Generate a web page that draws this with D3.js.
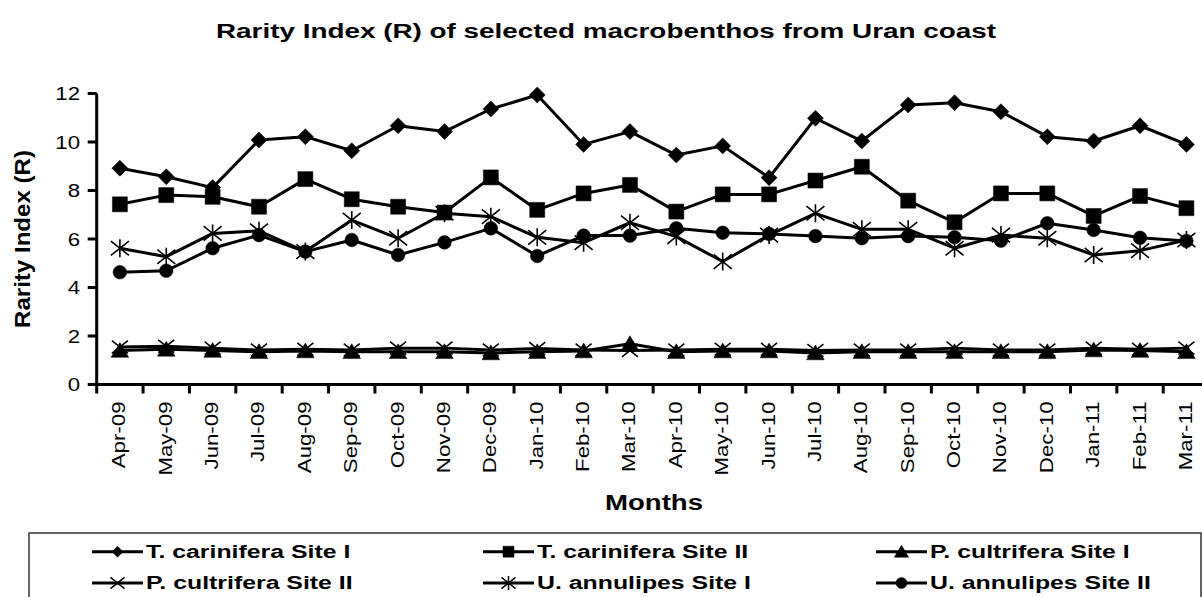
<!DOCTYPE html>
<html>
<head>
<meta charset="utf-8">
<script src="https://cdn.jsdelivr.net/npm/d3@7"></script>
<style>
  html, body { margin: 0; padding: 0; background: #fff; }
  svg { display: block; font-family: "Liberation Sans", Arial, sans-serif; }
</style>
</head>
<body>
<svg id="chart" width="1202" height="597"></svg>
<script>
const months = ["Apr-09","May-09","Jun-09","Jul-09","Aug-09","Sep-09","Oct-09","Nov-09","Dec-09","Jan-10","Feb-10","Mar-10",
                "Apr-10","May-10","Jun-10","Jul-10","Aug-10","Sep-10","Oct-10","Nov-10","Dec-10","Jan-11","Feb-11","Mar-11"];
const yTicks = [0, 2, 4, 6, 8, 10, 12];

const tcSite1 = [8.92, 8.57, 8.12, 10.08, 10.22, 9.64, 10.67, 10.43, 11.36, 11.94, 9.90, 10.43, 9.46, 9.84, 8.53, 10.98, 10.04, 11.53, 11.62, 11.25, 10.22, 10.04, 10.67, 9.90];
const tcSite2 = [7.43, 7.81, 7.74, 7.33, 8.47, 7.64, 7.33, 7.09, 8.54, 7.20, 7.88, 8.23, 7.13, 7.84, 7.84, 8.41, 8.98, 7.58, 6.69, 7.88, 7.88, 6.95, 7.77, 7.27];
const pcSite1 = [1.40, 1.45, 1.40, 1.35, 1.38, 1.35, 1.35, 1.35, 1.30, 1.35, 1.38, 1.68, 1.35, 1.38, 1.38, 1.30, 1.35, 1.35, 1.35, 1.35, 1.35, 1.42, 1.40, 1.35];
const pcSite2 = [1.55, 1.58, 1.50, 1.42, 1.45, 1.42, 1.50, 1.50, 1.42, 1.48, 1.42, 1.40, 1.42, 1.45, 1.45, 1.40, 1.42, 1.42, 1.50, 1.42, 1.42, 1.50, 1.45, 1.50];
const uaSite1 = [5.62, 5.27, 6.23, 6.34, 5.48, 6.78, 6.03, 7.06, 6.92, 6.07, 5.85, 6.67, 6.10, 5.07, 6.16, 7.06, 6.40, 6.40, 5.62, 6.16, 6.03, 5.34, 5.52, 5.96];
const uaSite2 = [4.63, 4.69, 5.62, 6.16, 5.48, 5.96, 5.34, 5.86, 6.44, 5.30, 6.14, 6.14, 6.44, 6.26, 6.21, 6.12, 6.03, 6.12, 6.07, 5.93, 6.65, 6.37, 6.05, 5.92];

const seriesNames = ["T. carinifera Site I","T. carinifera Site II","P. cultrifera Site I","P. cultrifera Site II","U. annulipes Site I","U. annulipes Site II"];
const seriesValues = [tcSite1, tcSite2, pcSite1, pcSite2, uaSite1, uaSite2];
const seriesMarkers = ["diamond","square","triangle","x","star","circle"];

const chartTitle = "Rarity Index (R) of selected macrobenthos from Uran coast";
const xTitle = "Months";
const yTitle = "Rarity Index (R)";

(function draw() {
const svg = d3.select("#chart");
const pL = 96.7, pR = 1209.6, pT = 93.5, pB = 384.5;

const x = d3.scaleBand().domain(months).range([pL, pR]).padding(0);
const y = d3.scaleLinear().domain([0, 12]).range([pB, pT]);

function stretch(sel, k) {
  sel.each(function() {
    const w = this.getComputedTextLength();
    d3.select(this).attr("textLength", w * k).attr("lengthAdjust", "spacingAndGlyphs");
  });
}

function markerPath(type, r) {
  switch (type) {
    case "diamond": return `M0,${-r}L${r},0L0,${r}L${-r},0Z`;
    case "square": return `M${-r},${-r}h${2*r}v${2*r}h${-2*r}Z`;
    case "triangle": return `M0,${-r}L${r*1.1},${r*0.85}L${-r*1.1},${r*0.85}Z`;
    case "circle": return `M${r},0A${r},${r} 0 1,1 ${-r},0A${r},${r} 0 1,1 ${r},0Z`;
    case "x": return `M${-r},${-r*0.8}L${r},${r*0.8}M${-r},${r*0.8}L${r},${-r*0.8}`;
    case "star": return `M${-r},${-r*0.8}L${r},${r*0.8}M${-r},${r*0.8}L${r},${-r*0.8}M0,${-r}L0,${r}`;
  }
}
const plotSize = {diamond: 8, square: 7.5, triangle: 8, circle: 6.8, x: 8, star: 9};
const legSize = {diamond: 5.5, square: 5.5, triangle: 6.5, circle: 5.5, x: 7, star: 7};
const isStroke = t => t === "x" || t === "star";

// title
svg.append("text")
  .attr("x", 606).attr("y", 38)
  .attr("text-anchor", "middle")
  .attr("font-size", 20).attr("font-weight", "bold")
  .attr("textLength", 780).attr("lengthAdjust", "spacingAndGlyphs")
  .text(chartTitle);

// y axis
const yAxis = svg.append("g");
yAxis.append("line")
  .attr("x1", pL).attr("x2", pL).attr("y1", pT).attr("y2", pB)
  .attr("stroke", "#000").attr("stroke-width", 3);
yAxis.selectAll("line.tick").data(yTicks).join("line")
  .attr("class", "tick")
  .attr("x1", pL - 9).attr("x2", pL).attr("y1", d => y(d)).attr("y2", d => y(d))
  .attr("stroke", "#000").attr("stroke-width", 3);
yAxis.selectAll("text").data(yTicks).join("text")
  .attr("x", 80).attr("y", d => y(d)).attr("dy", "0.36em")
  .attr("text-anchor", "end").attr("font-size", 18.5)
  .text(d => d)
  .call(stretch, 1.2);

// x axis
const xAxis = svg.append("g");
xAxis.append("line")
  .attr("x1", pL).attr("x2", 1202).attr("y1", pB).attr("y2", pB)
  .attr("stroke", "#000").attr("stroke-width", 3);
const boundaries = months.map(m => x(m)).concat([pR]);
xAxis.selectAll("line.tick").data(boundaries).join("line")
  .attr("class", "tick")
  .attr("x1", d => d).attr("x2", d => d).attr("y1", pB).attr("y2", pB + 9)
  .attr("stroke", "#000").attr("stroke-width", 3);
xAxis.selectAll("text").data(months).join("text")
  .attr("transform", d => `translate(${x(d) + x.bandwidth()/2 + 5.5},${401.5}) rotate(-90)`)
  .attr("text-anchor", "end").attr("font-size", 19)
  .text(d => d)
  .call(stretch, 1.17);

// axis titles
svg.append("text")
  .attr("transform", `translate(30,${239}) rotate(-90)`)
  .attr("text-anchor", "middle").attr("font-size", 22).attr("font-weight", "bold")
  .attr("textLength", 178).attr("lengthAdjust", "spacingAndGlyphs")
  .text(yTitle);
svg.append("text")
  .attr("x", 654).attr("y", 510)
  .attr("text-anchor", "middle").attr("font-size", 22).attr("font-weight", "bold")
  .attr("textLength", 98).attr("lengthAdjust", "spacingAndGlyphs")
  .text(xTitle);

// series
const line = d3.line().x((d, i) => x(months[i]) + x.bandwidth()/2).y(d => y(d));
const plot = svg.append("g");
seriesValues.forEach((vals, si) => {
  const g = plot.append("g");
  g.append("path").attr("d", line(vals))
    .attr("fill", "none").attr("stroke", "#000").attr("stroke-width", 3).attr("stroke-linejoin", "round");
  const t = seriesMarkers[si];
  g.selectAll("path.m").data(vals).join("path")
    .attr("class", "m")
    .attr("transform", (d, i) => `translate(${x(months[i]) + x.bandwidth()/2},${y(d)})`)
    .attr("d", markerPath(t, plotSize[t]))
    .attr("fill", isStroke(t) ? "none" : "#000")
    .attr("stroke", "#000").attr("stroke-width", isStroke(t) ? 1.6 : 0.5);
});

// legend
const legend = svg.append("g");
legend.append("rect")
  .attr("x", 29).attr("y", 533).attr("width", 1172).attr("height", 80)
  .attr("fill", "none").attr("stroke", "#333").attr("stroke-width", 1.5);
const colX = [92, 483, 876];
const rowY = [551.7, 583];
seriesNames.forEach((name, i) => {
  const cx = colX[i % 3], cy = rowY[Math.floor(i / 3)];
  const t = seriesMarkers[i];
  const g = legend.append("g");
  g.append("line").attr("x1", cx).attr("x2", cx + 51).attr("y1", cy).attr("y2", cy)
    .attr("stroke", "#000").attr("stroke-width", 3);
  g.append("path").attr("transform", `translate(${cx + 25.5},${cy})`)
    .attr("d", markerPath(t, legSize[t]))
    .attr("fill", isStroke(t) ? "none" : "#000")
    .attr("stroke", "#000").attr("stroke-width", isStroke(t) ? 1.5 : 0.5);
  g.append("text").attr("x", cx + 54).attr("y", cy).attr("dy", "0.36em")
    .attr("font-size", 18).attr("font-weight", "bold")
    .text(name)
    .call(stretch, 1.38);
});
})();
</script>
</body>
</html>
